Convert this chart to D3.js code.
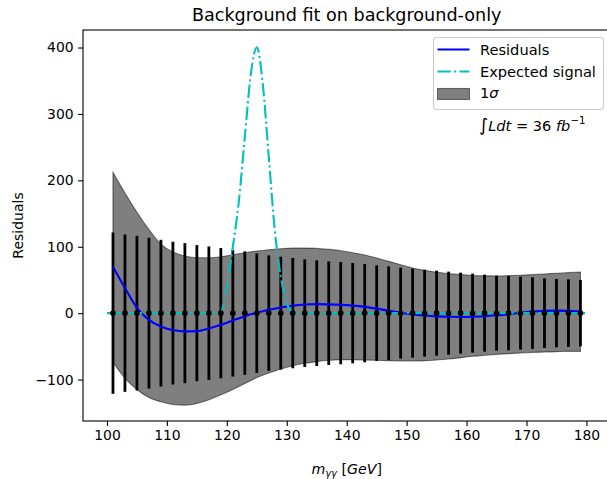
<!DOCTYPE html>
<html>
<head>
<meta charset="utf-8">
<script src="https://cdn.jsdelivr.net/npm/d3@7"></script>
<style>
  html, body { margin: 0; padding: 0; background: #fff; }
  svg { display: block; font-family: "DejaVu Sans", sans-serif; }
</style>
</head>
<body>
<div id="chart"></div>
<script>
// Diphoton mass bins (bin centres, GeV)
const massBins = [101, 103, 105, 107, 109, 111, 113, 115, 117, 119,
                  121, 123, 125, 127, 129, 131, 133, 135, 137, 139,
                  141, 143, 145, 147, 149, 151, 153, 155, 157, 159,
                  161, 163, 165, 167, 169, 171, 173, 175, 177, 179];

// Data minus fit in each bin (all zero for background-only pseudo-data) and its error
const dataResidual = [0, 0, 0, 0, 0, 0, 0, 0, 0, 0, 0, 0, 0, 0, 0, 0, 0, 0, 0, 0,
                      0, 0, 0, 0, 0, 0, 0, 0, 0, 0, 0, 0, 0, 0, 0, 0, 0, 0, 0, 0];
const dataError = [121.5, 118.5, 116.5, 113.5, 110.5, 107.5, 105.5, 102.5, 100.5, 98,
                   95.5, 93, 90, 87, 85, 83, 81, 79.5, 78, 77,
                   75.5, 74, 72, 70.5, 68.5, 67, 65.5, 64, 62.5, 61,
                   59.5, 58, 56.5, 56, 55, 54, 52.5, 51.5, 51, 50];

// Fit residual curve
const fitResidual = [70, 38, 8, -10, -20, -25.5, -27.5, -27, -23, -17.5,
                     -11, -4.5, 0.5, 5, 8.5, 11.2, 13, 13.6, 13.2, 12.5,
                     11.3, 9.5, 6.8, 3.6, 0.6, -1.8, -3.5, -4.8, -5.5, -5.7,
                     -5.3, -4.6, -3.2, -1.4, 0.6, 2.4, 3.5, 3.8, 3.4, 2.5];

// 1 sigma band edges
const bandHigh = [212, 181, 152, 126, 104, 92, 86, 83.5, 83.5, 85,
                  88, 91, 93.5, 95.5, 97, 98, 98, 97.5, 96, 94,
                  91, 87.5, 83, 78, 73, 68, 64.5, 61.5, 59.5, 58,
                  56.8, 56.2, 56, 56.5, 57, 58, 59, 60, 61, 62];
const bandLow = [-74, -98, -115, -127, -133.5, -137.5, -138.5, -136, -130.5, -123,
                 -115, -106, -97, -90, -84, -79, -75.5, -73, -71, -70,
                 -70, -70.5, -71, -71.5, -72, -72, -71.5, -70.5, -69, -67,
                 -65, -63.5, -62, -61, -60, -59, -58.5, -58, -57.5, -57.5];

// Expected Higgs signal shape
const signalMass = [100, 118, 119, 120, 121, 122, 123, 124, 125, 126, 127, 128, 129, 130, 131, 132, 180];
const signalValue = [0, 0, 2, 40, 100, 168, 265, 360, 400, 345, 235, 125, 55, 15, 2, 0, 0];

// Axis ticks
const xTicks = [100, 110, 120, 130, 140, 150, 160, 170, 180];
const yTicks = [-100, 0, 100, 200, 300, 400];

const W = 607, H = 479;
const plot = { left: 83, right: 610.4, top: 30, bottom: 421 };

const svg = d3.select("#chart").append("svg")
  .attr("width", W).attr("height", H);

const x = d3.scaleLinear().domain([96, 184]).range([plot.left, plot.right]);
const y = d3.scaleLinear().domain([-162.4, 426.4]).range([plot.bottom, plot.top]);

const bins = massBins.map((m, i) => ({
  m, v: dataResidual[i], e: dataError[i], fit: fitResidual[i], lo: bandLow[i], hi: bandHigh[i]
}));
const signal = signalMass.map((m, i) => ({ m, v: signalValue[i] }));

const g = svg.append("g");
g.append("clipPath").attr("id", "clip")
  .append("rect").attr("x", plot.left).attr("y", plot.top)
  .attr("width", plot.right - plot.left).attr("height", plot.bottom - plot.top);
const body = g.append("g").attr("clip-path", "url(#clip)");

// 1 sigma band
body.append("path")
  .datum(bins)
  .attr("d", d3.area().x(d => x(d.m)).y0(d => y(d.lo)).y1(d => y(d.hi)).curve(d3.curveMonotoneX))
  .attr("fill", "#000").attr("fill-opacity", 0.5)
  .attr("stroke", "#000").attr("stroke-opacity", 0.5).attr("stroke-width", 1.1);

// error bars
body.selectAll("line.err").data(bins).join("line")
  .attr("class", "err")
  .attr("x1", d => x(d.m)).attr("x2", d => x(d.m))
  .attr("y1", d => y(d.v - d.e)).attr("y2", d => y(d.v + d.e))
  .attr("stroke", "#000").attr("stroke-width", 2.8);

// fit residual
body.append("path")
  .datum(bins)
  .attr("d", d3.line().x(d => x(d.m)).y(d => y(d.fit)).curve(d3.curveMonotoneX))
  .attr("fill", "none").attr("stroke", "#0000ff").attr("stroke-width", 2.1);

// expected signal, dash-dot
const dashDot = "13.3,3.3,2.1,3.3";
body.append("path")
  .datum(signal)
  .attr("d", d3.line().x(d => x(d.m)).y(d => y(d.v)).curve(d3.curveMonotoneX))
  .attr("fill", "none").attr("stroke", "#00bfbf").attr("stroke-width", 2.1)
  .attr("stroke-dasharray", dashDot);

// data points
body.selectAll("circle.pt").data(bins).join("circle")
  .attr("class", "pt")
  .attr("cx", d => x(d.m)).attr("cy", d => y(d.v)).attr("r", 2.8)
  .attr("fill", "#000");

// axes
const xAxis = d3.axisBottom(x).tickValues(xTicks).tickSize(4.9).tickPadding(4.5)
  .tickFormat(d3.format("d"));
const yAxis = d3.axisLeft(y).tickValues(yTicks).tickSize(4.9).tickPadding(4.5)
  .tickFormat(d => d < 0 ? "\u2212" + Math.abs(d) : String(d));

const gx = svg.append("g").attr("transform", `translate(0,${plot.bottom})`).call(xAxis);
const gy = svg.append("g").attr("transform", `translate(${plot.left},0)`).call(yAxis);
[gx, gy].forEach(a => {
  a.select(".domain").remove();
  a.selectAll(".tick line").attr("stroke", "#000").attr("stroke-width", 1.1);
  a.selectAll(".tick text").attr("fill", "#000")
    .style("font-family", "DejaVu Sans").style("font-size", "13.9px");
});

// frame
svg.append("rect")
  .attr("x", plot.left).attr("y", plot.top)
  .attr("width", plot.right - plot.left).attr("height", plot.bottom - plot.top)
  .attr("fill", "none").attr("stroke", "#000").attr("stroke-width", 1.1);

// title
svg.append("text")
  .attr("x", (plot.left + plot.right) / 2).attr("y", 21)
  .attr("text-anchor", "middle").style("font-size", "17.6px").attr("fill", "#000")
  .text("Background fit on background-only");

// y label
svg.append("text")
  .attr("transform", `translate(23,${(plot.top + plot.bottom) / 2}) rotate(-90)`)
  .attr("text-anchor", "middle").style("font-size", "14px").attr("fill", "#000")
  .text("Residuals");

// x label: m_γγ [GeV]
const xl = svg.append("text")
  .attr("x", (plot.left + plot.right) / 2).attr("y", 474)
  .attr("text-anchor", "middle").style("font-size", "14.2px").attr("fill", "#000");
xl.append("tspan").style("font-style", "italic").text("m");
xl.append("tspan").style("font-style", "italic").style("font-size", "9.9px").attr("dy", 2.5).text("γγ");
xl.append("tspan").attr("dy", -2.5).text(" [");
xl.append("tspan").style("font-style", "italic").text("GeV");
xl.append("tspan").text("]");

// legend
const lg = svg.append("g");
lg.append("rect")
  .attr("x", 433.5).attr("y", 37.5).attr("width", 170).attr("height", 72)
  .attr("rx", 3).attr("ry", 3)
  .attr("fill", "#fff").attr("fill-opacity", 0.8)
  .attr("stroke", "#cccccc").attr("stroke-width", 1.1);
lg.append("line").attr("x1", 437.5).attr("x2", 469.5).attr("y1", 49.5).attr("y2", 49.5)
  .attr("stroke", "#0000ff").attr("stroke-width", 2.1);
lg.append("line").attr("x1", 437.5).attr("x2", 469.5).attr("y1", 71.5).attr("y2", 71.5)
  .attr("stroke", "#00bfbf").attr("stroke-width", 2.1).attr("stroke-dasharray", dashDot);
lg.append("rect").attr("x", 437.5).attr("y", 88.5).attr("width", 32).attr("height", 11)
  .attr("fill", "#000").attr("fill-opacity", 0.5)
  .attr("stroke", "#000").attr("stroke-opacity", 0.5).attr("stroke-width", 1.1);
const legendLabels = ["Residuals", "Expected signal"];
legendLabels.forEach((t, i) => {
  lg.append("text").attr("x", 480).attr("y", 55 + i * 21.8)
    .style("font-size", "14.6px").attr("fill", "#000").text(t);
});
const sig = lg.append("text").attr("x", 480).attr("y", 98.4)
  .style("font-size", "14.6px").attr("fill", "#000");
sig.append("tspan").text("1");
sig.append("tspan").style("font-style", "italic").text("σ");

// integrated luminosity
const lum = svg.append("text").attr("x", 479).attr("y", 130.5)
  .style("font-size", "14.6px").attr("fill", "#000");
lum.append("tspan").style("font-size", "17.5px").text("∫");
lum.append("tspan").style("font-style", "italic").text("Ldt");
lum.append("tspan").text(" = 36 ");
lum.append("tspan").style("font-style", "italic").text("fb");
lum.append("tspan").style("font-size", "10.2px").attr("dy", -6.5).text("\u22121");
</script>
</body>
</html>
